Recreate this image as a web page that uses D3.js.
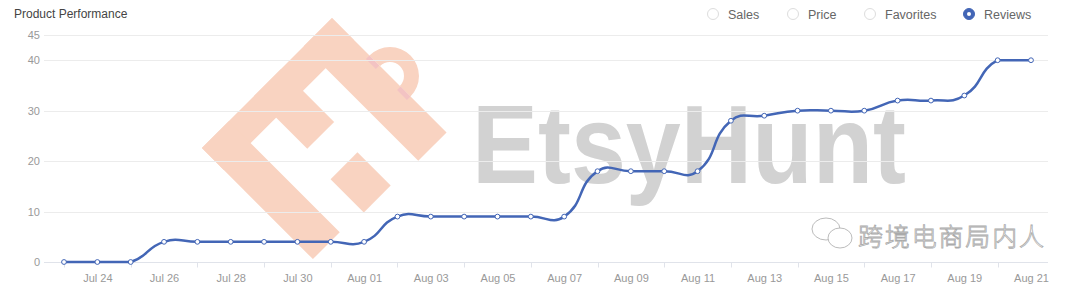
<!DOCTYPE html>
<html>
<head>
<meta charset="utf-8">
<script src="https://cdn.jsdelivr.net/npm/d3@7"></script>
<style>
  html, body { margin: 0; padding: 0; background: #fff; }
  svg { display: block; font-family: "Liberation Sans", Arial, sans-serif; }
</style>
</head>
<body>
<svg id="chart" width="1080" height="286"></svg>
<script>
// chart data
var dates = ["Jul 23","Jul 24","Jul 25","Jul 26","Jul 27","Jul 28","Jul 29","Jul 30","Jul 31",
             "Aug 01","Aug 02","Aug 03","Aug 04","Aug 05","Aug 06","Aug 07","Aug 08","Aug 09",
             "Aug 10","Aug 11","Aug 12","Aug 13","Aug 14","Aug 15","Aug 16","Aug 17","Aug 18",
             "Aug 19","Aug 20","Aug 21"];
var reviews = [0,0,0,4,4,4,4,4,4,4,9,9,9,9,9,9,18,18,18,18,28,29,30,30,30,32,32,33,40,40];
var yTicks = [0,10,20,30,40,45];
var legendItems = ["Sales","Price","Favorites","Reviews"];
var activeItem = "Reviews";

var svg = d3.select("#chart");

// layout config
var gridLeft = 44, gridRight = 1048;
var lineColor = "#4366b6";
var axisColor = "#999";

var x = d3.scalePoint().domain(dates).range([64, 1031]);
var y = d3.scaleLinear().domain([0, 45]).range([262, 35]);

/* watermark (drawn first, sits under everything) */
var wm = svg.append("g").attr("id","watermark");

// orange bag logo, built in a frame rotated 45deg around its top corner
var logo = wm.append("g")
    .attr("transform","translate(332,18) rotate(45)")
    .attr("fill","#f9d3c1");
logo.append("path")   // handle, on the outer side of the top arm
    .attr("d", d3.arc()({innerRadius:14, outerRadius:29, startAngle:-Math.PI/2, endAngle:Math.PI/2}))
    .attr("transform","translate(82,0)");
logo.append("rect").attr("x",0).attr("y",0).attr("width",31).attr("height",184);   // spine
logo.append("rect").attr("x",0).attr("y",0).attr("width",162).attr("height",40);   // top arm
logo.append("rect").attr("x",0).attr("y",72).attr("width",75).attr("height",38);   // middle arm
logo.append("rect").attr("x",0).attr("y",146).attr("width",157).attr("height",38); // bottom arm
logo.append("rect").attr("x",113).attr("y",77).attr("width",47).attr("height",38); // block
// pinkish seams where the handle meets the arm
logo.append("rect").attr("x",53).attr("y",0).attr("width",14).attr("height",5).attr("fill","#f3c3c3");
logo.append("rect").attr("x",97).attr("y",0).attr("width",14).attr("height",5).attr("fill","#f3c3c3");

wm.append("text")
    .attr("x",472).attr("y",183)
    .attr("textLength",434).attr("lengthAdjust","spacingAndGlyphs")
    .style("font-family","'Liberation Sans', Arial, sans-serif")
    .style("font-weight","bold")
    .style("font-size","112px")
    .style("fill","#d2d2d2")
    .text("EtsyHunt");

// wechat style mark, bottom right
var wc = wm.append("g").attr("fill","#fff").attr("stroke","#aaa").attr("stroke-width",0.8);
wc.append("ellipse").attr("cx",826).attr("cy",229).attr("rx",14).attr("ry",11);
wc.append("ellipse").attr("cx",840).attr("cy",238).attr("rx",12).attr("ry",10);
wc.append("text")
    .attr("x",858).attr("y",246)
    .style("font-family","'Noto Sans CJK SC', sans-serif")
    .style("font-size","25px")
    .style("font-weight","300")
    .attr("textLength",186)
    .text("跨境电商局内人");

/* grid + axes */
var grid = svg.append("g").attr("id","grid");
grid.selectAll("line.grid")
    .data(yTicks.filter(function(d){ return d > 0; }))
    .enter()
    .append("line")
    .attr("class","grid")
    .attr("x1",gridLeft).attr("x2",gridRight)
    .attr("y1",function(d){ return Math.round(y(d)) + 0.5; })
    .attr("y2",function(d){ return Math.round(y(d)) + 0.5; })
    .style("stroke","#ececec")
    .style("stroke-width",1);

var yAxis = svg.append("g")
    .attr("transform","translate(" + gridLeft + ",0)")
    .call(d3.axisLeft(y).tickValues(yTicks).tickSize(0).tickPadding(4));
yAxis.select(".domain").remove();
yAxis.selectAll("text")
    .style("font-size","11px")
    .style("fill",axisColor)
    .style("font-family","'Liberation Sans', Arial, sans-serif");

var xAxis = svg.append("g")
    .attr("transform","translate(0," + (Math.round(y(0)) + 0.5) + ")")
    .call(d3.axisBottom(x).tickSize(0).tickPadding(12)
        .tickValues(dates.filter(function(d,i){ return i % 2 == 1; })));
xAxis.select(".domain").attr("d","M" + gridLeft + ",0H" + gridRight)
    .style("stroke","#e0e3ea");
xAxis.selectAll("text")
    .style("font-size","11px")
    .style("fill",axisColor)
    .style("font-family","'Liberation Sans', Arial, sans-serif");
// small ticks between labels
xAxis.selectAll("line.minor")
    .data(dates.filter(function(d,i){ return i % 2 == 0; }))
    .enter()
    .append("line")
    .attr("class","minor")
    .attr("x1",function(d){ return Math.round(x(d)) + 0.5; })
    .attr("x2",function(d){ return Math.round(x(d)) + 0.5; })
    .attr("y1",0).attr("y2",5)
    .style("stroke","#e0e3ea");

/* smooth line, control points like echarts' smooth:0.5 with bounding-box constraint */
function smoothPath(pts, smooth) {
    var p = d3.path();
    var minX = d3.min(pts, function(d){ return d[0]; }), maxX = d3.max(pts, function(d){ return d[0]; });
    var minY = d3.min(pts, function(d){ return d[1]; }), maxY = d3.max(pts, function(d){ return d[1]; });
    function clamp(c) {
        return [Math.max(minX, Math.min(maxX, c[0])), Math.max(minY, Math.min(maxY, c[1]))];
    }
    var cps = [];
    for (var i = 0; i < pts.length; i++) {
        var cur = pts[i];
        if (i == 0 || i == pts.length - 1) { cps.push([cur, cur]); continue; }
        var prev = pts[i-1], next = pts[i+1];
        var vx = (next[0] - prev[0]) * smooth, vy = (next[1] - prev[1]) * smooth;
        var d0 = Math.hypot(cur[0]-prev[0], cur[1]-prev[1]);
        var d1 = Math.hypot(cur[0]-next[0], cur[1]-next[1]);
        var sum = d0 + d1;
        if (sum > 0) { d0 /= sum; d1 /= sum; }
        cps.push([clamp([cur[0]-vx*d0, cur[1]-vy*d0]), clamp([cur[0]+vx*d1, cur[1]+vy*d1])]);
    }
    p.moveTo(pts[0][0], pts[0][1]);
    for (var j = 1; j < pts.length; j++) {
        var a = cps[j-1][1], b = cps[j][0];
        p.bezierCurveTo(a[0], a[1], b[0], b[1], pts[j][0], pts[j][1]);
    }
    return p.toString();
}

var pts = dates.map(function(d,i){ return [x(d), y(reviews[i])]; });

svg.append("path")
    .attr("d", smoothPath(pts, 0.5))
    .style("fill","none")
    .style("stroke",lineColor)
    .style("stroke-width",2.5);

svg.append("g").selectAll("circle")
    .data(reviews)
    .enter()
    .append("circle")
    .attr("cx",function(d,i){ return x(dates[i]); })
    .attr("cy",function(d){ return y(d); })
    .attr("r",2.4)
    .style("fill","#fff")
    .style("stroke",lineColor)
    .style("stroke-width",1);

/* title */
svg.append("text")
    .attr("x",14).attr("y",18)
    .style("font-size","12px")
    .style("fill","#444")
    .text("Product Performance");

/* legend (radio buttons) */
var legendX = [713, 793, 870, 969];
var legend = svg.append("g").attr("id","legend");
var items = legend.selectAll("g.item")
    .data(legendItems)
    .enter()
    .append("g")
    .attr("class","item")
    .attr("transform",function(d,i){ return "translate(" + legendX[i] + ",14)"; });

items.append("circle")
    .attr("r",5.5)
    .style("fill",function(d){ return d == activeItem ? lineColor : "#fff"; })
    .style("stroke",function(d){ return d == activeItem ? lineColor : "#ddd"; })
    .style("stroke-width",1);
items.filter(function(d){ return d == activeItem; })
    .append("circle")
    .attr("r",2)
    .style("fill","#fff");
items.append("text")
    .attr("x",15).attr("y",4.5)
    .style("font-size","12.5px")
    .style("fill","#666")
    .text(function(d){ return d; });
</script>
</body>
</html>
